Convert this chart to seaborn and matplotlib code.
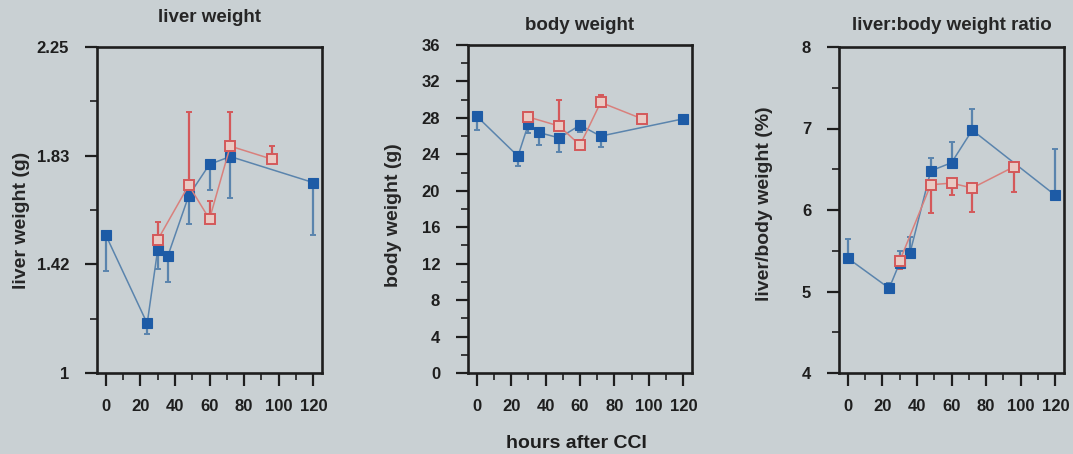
import numpy as np
import pandas as pd
import matplotlib
matplotlib.use("Agg")
import matplotlib.pyplot as plt
from matplotlib.ticker import AutoMinorLocator, FixedLocator
import seaborn as sns

# ---- data ----
hours_blue = [0, 24, 30, 36, 48, 60, 72, 120]
hours_red = [30, 48, 60, 72, 96]

liver_blue = [1.53, 1.19, 1.47, 1.45, 1.68, 1.80, 1.83, 1.73]
liver_blue_err = [0.14, 0.04, 0.07, 0.10, 0.11, 0.10, 0.16, 0.20]
liver_red = [1.51, 1.72, 1.59, 1.87, 1.82]
liver_red_err = [0.07, 0.28, 0.07, 0.13, 0.05]

body_blue = [28.2, 23.8, 27.3, 26.4, 25.8, 27.2, 26.0, 27.9]
body_blue_err = [1.5, 1.1, 1.0, 1.4, 1.5, 0.7, 1.2, 0.5]
body_red = [28.1, 27.1, 25.0, 29.7, 27.9]
body_red_err = [0.6, 2.9, 0.5, 0.8, 0.3]

ratio_blue = [5.41, 5.04, 5.35, 5.47, 6.48, 6.58, 6.98, 6.18]
ratio_blue_err = [0.23, 0.07, 0.15, 0.20, 0.16, 0.25, 0.26, 0.57]
ratio_red = [5.37, 6.31, 6.33, 6.27, 6.53]
ratio_red_err = [0.10, 0.35, 0.14, 0.30, 0.31]

titles = ["liver weight", "body weight", "liver:body weight ratio"]
ylabels = ["liver weight (g)", "body weight (g)", "liver/body weight (%)"]
x_ticks = [0, 20, 40, 60, 80, 100, 120]
liver_yticks = [1, 1.4167, 1.8333, 2.25]
liver_yticklabels = ["1", "1.42", "1.83", "2.25"]
body_yticks = [0, 4, 8, 12, 16, 20, 24, 28, 32, 36]
ratio_yticks = [4, 5, 6, 7, 8]

BG = "#c9d0d3"
BLUE = "#1d5ba6"
BLUE_LINE = "#5a84ad"
RED = "#d4585a"
RED_FACE = "#e9cac4"
RED_LINE = "#d9807c"
DARK = "#1e1e1e"

sns.set_theme(style="ticks", rc={
    "figure.facecolor": BG,
    "axes.facecolor": BG,
    "axes.edgecolor": DARK,
    "axes.linewidth": 1.9,
    "xtick.color": DARK,
    "ytick.color": DARK,
})
plt.rcParams["font.family"] = ["Liberation Sans", "DejaVu Sans"]
plt.rcParams["font.weight"] = "bold"

fig = plt.figure(figsize=(10.73, 4.54), dpi=100)
W, H = 1073, 454
boxes = [(97, 322, 47, 373), (468, 692, 45, 373), (839, 1064, 47, 373)]
axes = []
for (l, r, t, b) in boxes:
    axes.append(fig.add_axes([l / W, (H - b) / H, (r - l) / W, (b - t) / H]))

panels = [
    (liver_blue, liver_blue_err, liver_red, liver_red_err, "down", (1, 2.25), liver_yticks, liver_yticklabels),
    (body_blue, body_blue_err, body_red, body_red_err, "down", (0, 36), body_yticks, [str(v) for v in body_yticks]),
    (ratio_blue, ratio_blue_err, ratio_red, ratio_red_err, "up", (4, 8), ratio_yticks, [str(v) for v in ratio_yticks]),
]
title_pads = [18, 11, 12]
ylabel_coords = [(-0.298, 0.469), (-0.295, 0.482), (-0.293, 0.52)]

for i, (ax, title, ylab, (yb, eb, yr, er, bdir, ylim, yt, ytl)) in enumerate(zip(axes, titles, ylabels, panels)):
    zb = np.zeros(len(eb))
    zr = np.zeros(len(er))
    if bdir == "down":
        berr = [eb, zb]
        rerr = [zr, er]
    else:
        berr = [zb, eb]
        rerr = [er, zr]
    ax.errorbar(hours_blue, yb, yerr=berr, fmt="none", ecolor=BLUE_LINE,
                elinewidth=1.6, capsize=2.5, capthick=1.4, zorder=2)
    ax.errorbar(hours_red, yr, yerr=rerr, fmt="none", ecolor=RED,
                elinewidth=1.6, capsize=2.5, capthick=1.4, zorder=2)
    dfb = pd.DataFrame({"h": hours_blue, "v": yb})
    dfr = pd.DataFrame({"h": hours_red, "v": yr})
    sns.lineplot(data=dfb, x="h", y="v", ax=ax, color=BLUE_LINE, linewidth=1.1,
                 marker="s", markersize=7.5, markerfacecolor=BLUE,
                 markeredgecolor=BLUE, markeredgewidth=0.8, zorder=3)
    sns.lineplot(data=dfr, x="h", y="v", ax=ax, color=RED_LINE, linewidth=1.1,
                 marker="s", markersize=7, markerfacecolor=RED_FACE,
                 markeredgecolor=RED, markeredgewidth=1.4, zorder=4)
    ax.set_xlim(-5, 125)
    ax.set_ylim(*ylim)
    ax.set_xticks(x_ticks)
    ax.set_xticklabels([str(v) for v in x_ticks])
    ax.xaxis.set_minor_locator(AutoMinorLocator(2))
    ax.yaxis.set_major_locator(FixedLocator(yt))
    ax.set_yticklabels(ytl)
    ax.yaxis.set_minor_locator(AutoMinorLocator(2))
    ax.tick_params(axis="both", which="major", length=9, width=1.6, labelsize=12)
    ax.tick_params(axis="both", which="minor", length=5, width=1.2)
    ax.tick_params(axis="x", which="major", pad=10)
    ax.tick_params(axis="y", which="major", pad=11)
    for lab in ax.get_xticklabels() + ax.get_yticklabels():
        lab.set_fontweight("bold")
    ax.set_xlabel("")
    ax.set_ylabel(ylab, fontsize=14, fontweight="bold")
    ax.yaxis.set_label_coords(*ylabel_coords[i])
    ax.set_title(title, fontsize=13.5, fontweight="bold", pad=title_pads[i])
    for s in ax.spines.values():
        s.set_visible(True)

fig.text(0.537, 0.024, "hours after CCI", ha="center", va="center",
         fontsize=14, fontweight="bold", color=DARK)

fig.savefig("out.png", dpi=100, facecolor=BG)
